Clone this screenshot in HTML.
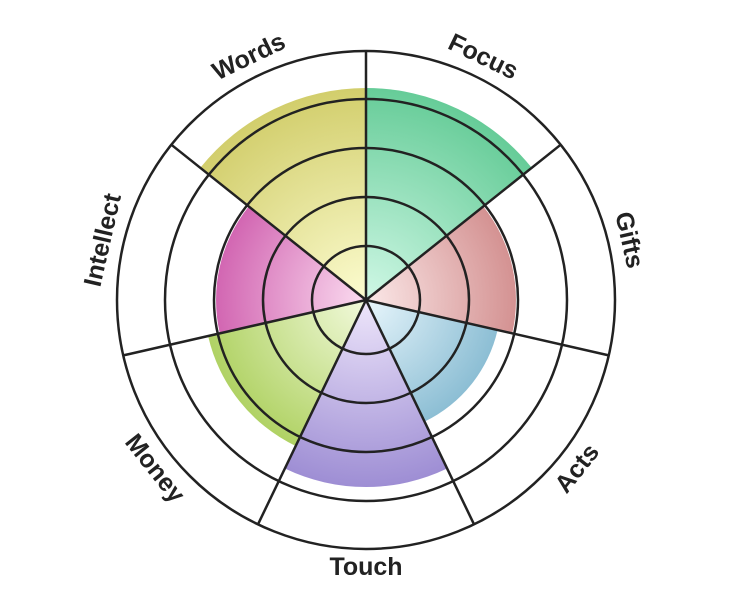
<!DOCTYPE html>
<html><head><meta charset="utf-8"><style>
html,body{margin:0;padding:0;background:#fff;}
svg{display:block;}
text{font-family:"Liberation Sans",sans-serif;font-weight:bold;font-size:25px;fill:#222;}
</style></head><body>
<svg width="732" height="600" viewBox="0 0 732 600" xmlns="http://www.w3.org/2000/svg">
<defs>
<radialGradient id="gF" gradientUnits="userSpaceOnUse" cx="366" cy="300" r="212"><stop offset="0" stop-color="#d0f8e6"/><stop offset="1" stop-color="#66cc98"/></radialGradient>
<radialGradient id="gW" gradientUnits="userSpaceOnUse" cx="366" cy="300" r="212"><stop offset="0" stop-color="#fcfcd0"/><stop offset="1" stop-color="#d2ce6c"/></radialGradient>
<radialGradient id="gG" gradientUnits="userSpaceOnUse" cx="366" cy="300" r="150"><stop offset="0" stop-color="#fbe8e8"/><stop offset="1" stop-color="#d49292"/></radialGradient>
<radialGradient id="gA" gradientUnits="userSpaceOnUse" cx="366" cy="300" r="135"><stop offset="0" stop-color="#e8f6fc"/><stop offset="1" stop-color="#8cbed4"/></radialGradient>
<radialGradient id="gT" gradientUnits="userSpaceOnUse" cx="366" cy="300" r="187"><stop offset="0" stop-color="#eee6fb"/><stop offset="1" stop-color="#9e8ed4"/></radialGradient>
<radialGradient id="gM" gradientUnits="userSpaceOnUse" cx="366" cy="300" r="162"><stop offset="0" stop-color="#f2fadc"/><stop offset="1" stop-color="#b0d264"/></radialGradient>
<radialGradient id="gI" gradientUnits="userSpaceOnUse" cx="366" cy="300" r="150"><stop offset="0" stop-color="#fbdcf0"/><stop offset="1" stop-color="#d266b2"/></radialGradient>
</defs>
<path d="M366 300 L366 88 A212 212 0 0 1 531.7 167.8 Z" fill="url(#gF)"/>
<path d="M366 300 L483.3 206.5 A150 150 0 0 1 512.2 333.4 Z" fill="url(#gG)"/>
<path d="M366 300 L497.6 330 A135 135 0 0 1 424.6 421.6 Z" fill="url(#gA)"/>
<path d="M366 300 L447.1 468.5 A187 187 0 0 1 284.9 468.5 Z" fill="url(#gT)"/>
<path d="M366 300 L295.7 446 A162 162 0 0 1 208.1 336 Z" fill="url(#gM)"/>
<path d="M366 300 L219.8 333.4 A150 150 0 0 1 248.7 206.5 Z" fill="url(#gI)"/>
<path d="M366 300 L200.3 167.8 A212 212 0 0 1 366 88 Z" fill="url(#gW)"/>
<g fill="none" stroke="#222" stroke-width="2.5">
<circle cx="366" cy="300" r="54"/>
<circle cx="366" cy="300" r="103"/>
<circle cx="366" cy="300" r="152"/>
<circle cx="366" cy="300" r="201"/>
<circle cx="366" cy="300" r="249"/>
<line x1="366" y1="300" x2="366" y2="51"/>
<line x1="366" y1="300" x2="560.7" y2="144.7"/>
<line x1="366" y1="300" x2="608.8" y2="355.4"/>
<line x1="366" y1="300" x2="474" y2="524.3"/>
<line x1="366" y1="300" x2="258" y2="524.3"/>
<line x1="366" y1="300" x2="123.2" y2="355.4"/>
<line x1="366" y1="300" x2="171.3" y2="144.7"/>
</g>
<g text-anchor="middle" dominant-baseline="central">
<text transform="translate(483.2 56.7) rotate(25.71)">Focus</text>
<text transform="translate(629.2 240) rotate(77.14)">Gifts</text>
<text transform="translate(577.1 468.4) rotate(-51.43)">Acts</text>
<text transform="translate(366 567)">Touch</text>
<text transform="translate(154.9 468.4) rotate(51.43)">Money</text>
<text transform="translate(102.8 240) rotate(-77.14)">Intellect</text>
<text transform="translate(248.8 56.7) rotate(-25.71)">Words</text>
</g>
</svg>
</body></html>
